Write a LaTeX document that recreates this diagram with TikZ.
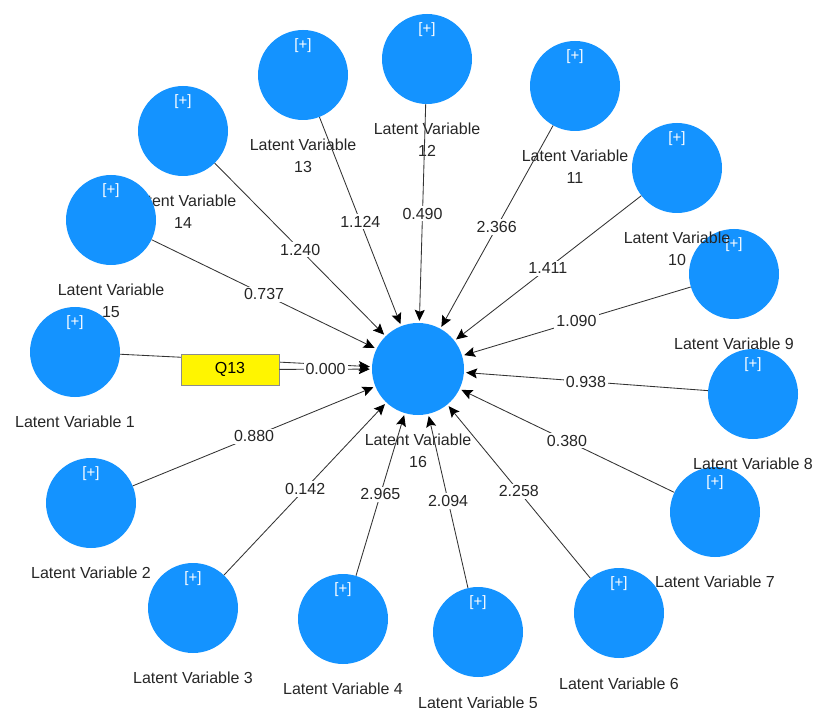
\documentclass[tikz,border=0pt]{standalone}
\usepackage{fontspec}
\setmainfont{Liberation Sans}
\usetikzlibrary{arrows.meta}
\definecolor{lvblue}{RGB}{20,147,255}
\definecolor{modyellow}{RGB}{255,245,0}

\begin{document}
\begin{tikzpicture}[x=1pt,y=-1pt,->,>={Stealth[length=11pt,width=10pt,inset=2pt,color=black]},
    shorten >=2pt,
    every edge/.style={draw=black!80,line width=0.85pt},
    plus text/.style={font=\fontsize{15}{18}\selectfont,text=white,inner sep=0pt,yshift=-23pt},
    lv text/.style={font=\fontsize{16}{22}\selectfont,align=center,inner sep=0pt,
      yshift=-19pt,text=black!85},
    construct/.style={circle,fill=lvblue,minimum size=90pt,inner sep=0pt},
    latent node/.style={construct,label={[plus text]above:{[+]}}},
    moderator node/.style={rectangle,fill=modyellow,draw=black!45,line width=0.6pt,
      minimum width=98pt,minimum height=31pt,font=\fontsize{16}{20}\selectfont}]
    \useasboundingbox (0,0) rectangle (813,708);

    \node[latent node,label={[lv text]below:Latent Variable 1}] (lv1) at (75,352) {};
    \node[latent node,label={[lv text]below:Latent Variable 2}] (lv2) at (91,503) {};
    \node[latent node,label={[lv text]below:Latent Variable 3}] (lv3) at (193,608) {};
    \node[latent node,label={[lv text]below:Latent Variable 4}] (lv4) at (343,619) {};
    \node[latent node,label={[lv text]below:Latent Variable 5}] (lv5) at (478,632) {};
    \node[latent node,label={[lv text]below:Latent Variable 6}] (lv6) at (619,613) {};
    \node[latent node,label={[lv text]below:Latent Variable 7}] (lv7) at (715,512) {};
    \node[latent node,label={[lv text]below:Latent Variable 8}] (lv8) at (753,394) {};
    \node[latent node,label={[lv text]below:Latent Variable 9}] (lv9) at (734,274) {};
    \node[latent node,label={[lv text]below:{Latent Variable\\10}}] (lv10) at (677,168) {};
    \node[latent node,label={[lv text]below:{Latent Variable\\11}}] (lv11) at (575,86) {};
    \node[latent node,label={[lv text]below:{Latent Variable\\12}}] (lv12) at (427,59) {};
    \node[latent node,label={[lv text]below:{Latent Variable\\13}}] (lv13) at (303,75) {};
    \node[latent node,label={[lv text]below:{Latent Variable\\14}}] (lv14) at (183,131) {};
    \node[latent node,label={[lv text]below:{Latent Variable\\15}}] (lv15) at (111,220) {};
    \node[construct,minimum size=92pt,label={[lv text]below:{Latent Variable\\16}}] (lv16) at (418,369) {};

    \path[every node/.style={fill=white,inner sep=2pt,text=black!85,
        font=\fontsize{16}{20}\selectfont}]
    (lv1)  edge (lv16)
    (lv2)  edge node {0.880} (lv16)
    (lv3)  edge node {0.142} (lv16)
    (lv4)  edge node {2.965} (lv16)
    (lv5)  edge node {2.094} (lv16)
    (lv6)  edge node {2.258} (lv16)
    (lv7)  edge node {0.380} (lv16)
    (lv8)  edge node {0.938} (lv16)
    (lv9)  edge node {1.090} (lv16)
    (lv10) edge node {1.411} (lv16)
    (lv11) edge node {2.366} (lv16)
    (lv12) edge node {0.490} (lv16)
    (lv13) edge node {1.124} (lv16)
    (lv14) edge node {1.240} (lv16)
    (lv15) edge node {0.737} (lv16);

    % moderating effect sits on top of the LV1 path
    \node[moderator node] (q13) at (230,369.5) {Q13};
    \path[every node/.style={fill=white,inner sep=2pt,text=black!85,
        font=\fontsize{16}{20}\selectfont}]
    (q13) edge node {0.000} (lv16);
\end{tikzpicture}
\end{document}
